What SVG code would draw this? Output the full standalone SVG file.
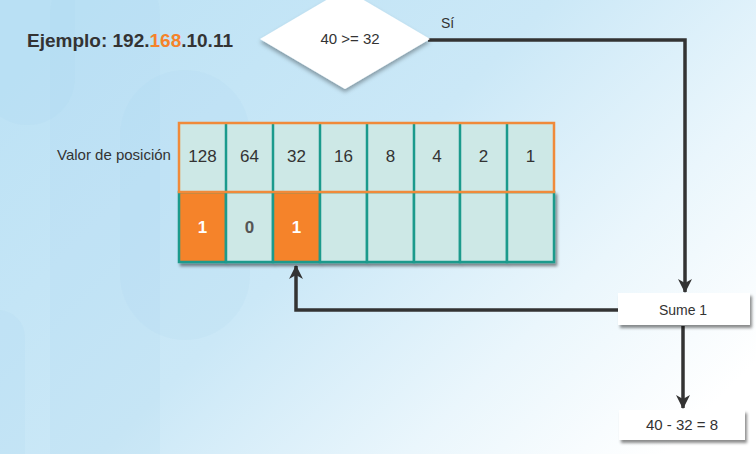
<svg xmlns="http://www.w3.org/2000/svg" width="756" height="454" viewBox="0 0 756 454">
<defs>
<linearGradient id="bg" x1="0" y1="0.2" x2="1" y2="0.8">
<stop offset="0" stop-color="#bde2f5"/>
<stop offset="0.45" stop-color="#cbe8f7"/>
<stop offset="0.75" stop-color="#eaf6fc"/>
<stop offset="1" stop-color="#ffffff"/>
</linearGradient>
<filter id="sh" x="-20%" y="-20%" width="150%" height="160%">
<feDropShadow dx="2" dy="3" stdDeviation="1.5" flood-color="#000" flood-opacity="0.45"/>
</filter>
<filter id="shd" x="-20%" y="-20%" width="140%" height="160%">
<feDropShadow dx="0" dy="3" stdDeviation="2" flood-color="#000" flood-opacity="0.35"/>
</filter>
<marker id="ah" viewBox="0 0 14 14" refX="13" refY="7" markerWidth="14" markerHeight="14" markerUnits="userSpaceOnUse" orient="auto">
<path d="M0,0 L14,7 L0,14 L4,7 Z" fill="#333"/>
</marker>
<style>
.t{font-family:"Liberation Sans",Arial,sans-serif;fill:#333}
.cell{fill:#cde8e6;stroke:#1a9a8c;stroke-width:2.5}
.on{fill:#f5832a;stroke:#1a9a8c;stroke-width:2.5}
.box{fill:#fff}
.conn{fill:none;stroke:#333;stroke-width:3.5}
.pill{fill:#9fd0ec;opacity:0.1}
</style>
</defs>
<rect width="756" height="454" fill="url(#bg)"/>
<g id="background-shapes">
<rect class="pill" x="-20" y="-60" width="95" height="185" rx="47"/>
<rect class="pill" x="50" y="-40" width="110" height="600" rx="55"/>
<rect class="pill" x="120" y="70" width="130" height="270" rx="65"/>
<rect class="pill" x="-30" y="310" width="55" height="200" rx="27"/>
</g>
<g id="title">
<text class="t" x="27" y="47" font-size="19" font-weight="bold">Ejemplo: 192.<tspan fill="#f5832a">168</tspan>.10.11</text>
</g>
<g id="connectors">
<polyline class="conn" points="428,40 685,40 685,292" marker-end="url(#ah)"/>
<polyline class="conn" points="620,310 296,310 296,266" marker-end="url(#ah)"/>
<line class="conn" x1="683" y1="326" x2="683" y2="408" marker-end="url(#ah)"/>
</g>
<g id="decision">
<polygon points="345,-11 430,39 345,89 260,39" fill="#fff" filter="url(#shd)"/>
<text class="t" x="350" y="44" font-size="15" text-anchor="middle">40 &gt;= 32</text>
<text class="t" x="441" y="28" font-size="14">Sí</text>
</g>
<g id="label-valor">
<text class="t" x="57" y="160" font-size="15">Valor de posición</text>
</g>
<g id="table">
<g id="bits" filter="url(#sh)">
<rect class="on" x="179" y="192" width="47" height="70"/>
<rect class="cell" x="226" y="192" width="47" height="70"/>
<rect class="on" x="273" y="192" width="47" height="70"/>
<rect class="cell" x="320" y="192" width="47" height="70"/>
<rect class="cell" x="367" y="192" width="47" height="70"/>
<rect class="cell" x="414" y="192" width="46" height="70"/>
<rect class="cell" x="460" y="192" width="47" height="70"/>
<rect class="cell" x="507" y="192" width="47" height="70"/>
</g>
<g id="weights">
<rect x="179" y="123" width="375" height="69" fill="#cde8e6"/>
<g stroke="#1a9a8c" stroke-width="2.5">
<line x1="226" y1="123" x2="226" y2="192"/>
<line x1="273" y1="123" x2="273" y2="192"/>
<line x1="320" y1="123" x2="320" y2="192"/>
<line x1="367" y1="123" x2="367" y2="192"/>
<line x1="414" y1="123" x2="414" y2="192"/>
<line x1="460" y1="123" x2="460" y2="192"/>
<line x1="507" y1="123" x2="507" y2="192"/>
</g>
<rect x="179" y="123" width="375" height="69" fill="none" stroke="#f08a3a" stroke-width="2.5"/>
</g>
<g class="t" font-size="17" text-anchor="middle">
<text x="202.5" y="162">128</text>
<text x="249.5" y="162">64</text>
<text x="296.5" y="162">32</text>
<text x="343.5" y="162">16</text>
<text x="390.5" y="162">8</text>
<text x="437" y="162">4</text>
<text x="483.5" y="162">2</text>
<text x="530.5" y="162">1</text>
</g>
<g font-family="Liberation Sans,Arial,sans-serif" font-size="17" font-weight="bold" text-anchor="middle">
<text x="202.5" y="233" fill="#fff">1</text>
<text x="249.5" y="233" fill="#555">0</text>
<text x="296.5" y="233" fill="#fff">1</text>
</g>
</g>
<g id="sume">
<rect class="box" x="618" y="293" width="132" height="32" filter="url(#sh)"/>
<text class="t" x="683" y="315" font-size="14" text-anchor="middle">Sume 1</text>
</g>
<g id="result">
<rect class="box" x="619" y="410" width="126" height="30" filter="url(#sh)"/>
<text class="t" x="682" y="430" font-size="15" text-anchor="middle">40 - 32 = 8</text>
</g>
</svg>
